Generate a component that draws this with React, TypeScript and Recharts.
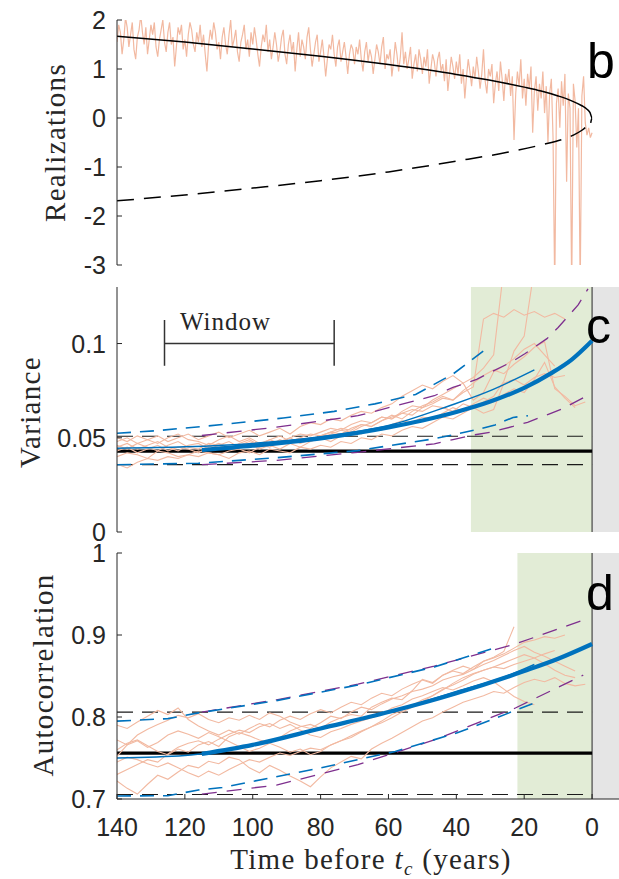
import React from 'react';
import { LineChart, Line, XAxis, YAxis, ReferenceArea, ReferenceLine } from 'recharts';

// ---- shared axis ----
const X_DOMAIN: [number, number] = [-10, 140];
const X_TICKS = [140, 120, 100, 80, 60, 40, 20, 0];

// ---- panel b: one realization (every 0.5 yr) + equilibria ----
const bNoise = [
  1.55, 1.9, 1.75, 1.3, 1.6, 2.05, 1.85, 1.45, 1.7, 1.95,
  1.4, 1.2, 1.65, 1.8, 2.1, 1.75, 1.5, 1.85, 1.3, 1.6,
  1.9, 1.7, 1.95, 1.45, 1.25, 1.6, 1.8, 2.0, 1.55, 1.35,
  1.75, 1.95, 1.5, 1.65, 1.05, 1.45, 1.85, 1.7, 1.9, 1.4,
  1.6, 1.25, 1.7, 1.95, 1.8, 1.5, 1.35, 1.75, 1.55, 1.9,
  1.45, 1.7, 1.3, 0.95, 1.5, 1.8, 1.6, 1.95, 1.75, 1.4,
  1.55, 1.2, 1.65, 1.85, 1.5, 1.3, 1.7, 2.0, 1.45, 1.6,
  1.8, 1.35, 1.15, 1.55, 1.7, 1.9, 1.4, 1.6, 1.25, 1.75,
  1.5, 1.85, 1.6, 1.3, 1.05, 1.45, 1.7, 1.55, 1.9, 1.35,
  1.6, 1.2, 1.45, 1.75, 1.5, 1.15, 1.35, 1.65, 1.8, 1.3,
  1.1, 1.5, 1.7, 1.35, 1.55, 0.95, 1.4, 1.75, 1.25, 1.6,
  1.45, 1.2, 1.65, 1.85, 1.4, 1.05, 1.3, 1.55, 1.7, 1.15,
  1.35, 1.6, 1.25, 0.85, 1.2, 1.5, 1.4, 1.7, 1.3, 1.05,
  1.45, 1.6, 1.15, 1.35, 1.55, 1.25, 0.9, 1.3, 1.5, 1.4,
  1.1, 1.45, 1.3, 1.6, 1.2, 0.95, 1.35, 1.55, 1.15, 1.4,
  1.25, 0.9, 1.2, 1.5, 1.35, 1.1, 1.45, 1.65, 1.0, 1.3,
  1.2, 1.4, 0.85, 1.15, 1.55, 1.3, 0.95, 1.25, 1.75, 1.1,
  1.35, 1.0, 1.2, 1.45, 0.8, 1.1, 1.3, 0.95, 1.4, 1.2,
  0.9, 1.25, 1.05, 1.4, 0.7, 1.0, 1.3, 1.15, 0.85, 1.2,
  1.35, 0.95, 1.1, 0.75, 1.2, 0.55, 0.9, 1.25, 1.05, 0.8,
  1.15, 0.9, 1.3, 0.7, 1.0, 0.4, 0.85, 1.2, 0.95, 0.65,
  1.05, 0.8, 1.25, 0.95, 0.6, 0.9, 1.4, 0.75, 0.5, 1.0,
  0.85, 1.1, 0.3, 0.7, 0.95, 0.55, 1.15, 0.8, 0.35, 0.9,
  0.7, 1.0, 0.45, 0.85, -0.45, 0.5, 0.95, 0.65, 1.2, 0.4,
  0.8, 0.25, 0.9, 0.6, 1.05, -0.3, 0.55, 0.85, 0.15, 0.7,
  0.4, 0.95, 0.1, 0.65, -0.5, 0.5, 0.8, -0.4, -3.5, 0.3,
  0.6, -0.2, 0.75, 0.25, 0.9, -1.3, 0.5, 0.2, -3.5, 0.7,
  0.35, -0.6, 0.2, -3.5, 0.45, 0.85, -0.1, -0.35, -0.2, -0.4,
  -0.3,
];
const bNoiseT = bNoise.map((_, i) => 140 - i * 0.5);
const bStableT = [140, 120, 100, 80, 60, 40, 30, 20, 15, 10, 6, 3, 1.5, 0.6, 0, 0.4];
const bStableV = [1.67, 1.55, 1.41, 1.26, 1.09, 0.89, 0.77, 0.63, 0.55, 0.45, 0.35, 0.25, 0.18, 0.11, 0, -0.1];
const bUnstableT = [140, 120, 100, 80, 60, 40, 25, 15, 8, 5.5, 3, 1];
const bUnstableV = [-1.69, -1.57, -1.43, -1.28, -1.1, -0.88, -0.7, -0.55, -0.42, -0.35, -0.25, -0.14];

// ---- panels c, d: moving-window estimates ----
const winT = [140, 137, 134, 131, 128, 125, 122, 119, 116, 113, 110, 107, 104, 101, 98, 95, 92, 89, 86, 83,
  80, 77, 74, 71, 68, 65, 62, 59, 56, 53, 50, 47, 44, 41, 38, 35, 32, 29, 26, 23, 20, 17, 14, 11, 8, 5, 2];

const varRuns = [
  [.046, .044, .047, .045, .043, .046, .048, .045, .044, .047, .046, .044, .047, .049, .046, .045, .048, .050, .047, .049,
    .051, .053, .052, .055, .057, .056, .059, .061, .063, .062, .066, .068, .071, .070, .074, .077, .113, .116, .114, .118,
    .115, .117, .114, .116, .113],
  [.040, .042, .041, .039, .043, .042, .040, .041, .043, .042, .041, .043, .044, .042, .045, .046, .044, .047, .049, .048,
    .050, .052, .054, .053, .056, .058, .061, .060, .064, .067, .066, .070, .073, .076, .079, .082, .087, .094, .140],
  [.050, .048, .051, .049, .047, .050, .052, .049, .048, .046, .049, .051, .048, .050, .047, .049, .051, .048, .050, .052,
    .051, .053, .055, .054, .057, .056, .059, .062, .060, .064, .067, .069, .072, .070, .075, .079, .083, .086, .084, .089,
    .093, .098, .101, .076, .072, .067, .069],
  [.036, .034, .037, .039, .038, .040, .039, .041, .040, .042, .041, .039, .042, .043, .041, .044, .043, .042, .045, .044,
    .046, .045, .048, .047, .050, .049, .052, .051, .054, .056, .055, .058, .061, .060, .063, .066, .069, .072, .080, .096,
    .104, .140],
  [.043, .045, .042, .044, .046, .043, .045, .044, .042, .045, .047, .045, .046, .048, .046, .049, .047, .050, .052, .051,
    .053, .055, .054, .057, .059, .058, .061, .060, .063, .065, .064, .067, .066, .064, .068, .066, .063, .065, .079, .081,
    .078, .082, .084, .082, .083],
  [.045, .047, .044, .046, .048, .045, .043, .046, .047, .044, .046, .048, .045, .047, .044, .046, .049, .047, .045, .048,
    .050, .048, .051, .053, .052, .055, .054, .057, .059, .058, .061, .060, .063, .066, .064, .068, .071, .069, .073, .076,
    .074, .081, .090, .077, .071, .066],
  [.048, .050, .047, .049, .051, .048, .050, .052, .049, .051, .053, .050, .052, .054, .051, .053, .055, .052, .056, .058,
    .057, .060, .059, .062, .064, .063, .066, .068, .072, .075, .078, .076, .080, .083, .079, .070, .074, .085, .088, .092,
    .097, .100, .094, .088],
];

const acRuns = [
  [.790, .786, .794, .801, .808, .803, .811, .797, .789, .783, .778, .784, .779, .786, .792, .788, .796, .801, .797, .804,
    .809, .805, .812, .818, .815, .823, .829, .826, .834, .840, .845, .841, .851, .857, .862, .858, .868, .873, .880, .910],
  [.760, .768, .772, .765, .758, .754, .761, .757, .766, .770, .764, .776, .781, .777, .772, .769, .775, .783, .788, .791,
    .786, .794, .799, .803, .801, .812, .818, .823, .821, .832, .846, .842, .851, .856, .853, .861, .868, .872, .877, .884,
    .891, .894, .898, .896, .900],
  [.722, .713, .706, .718, .729, .724, .733, .741, .738, .746, .743, .751, .748, .738, .732, .741, .735, .728, .722, .715,
    .727, .738, .745, .752, .749, .761, .768, .774, .781, .788, .795, .799, .806, .812, .818, .822, .826, .831, .829, .836,
    .842, .846, .843, .848, .841, .838, .840],
  [.772, .766, .771, .763, .769, .778, .783, .779, .774, .781, .776, .770, .764, .758, .762, .768, .763, .757, .761, .754,
    .758, .766, .771, .775, .782, .788, .793, .799, .806, .812, .819, .826, .834, .839, .845, .852, .857, .861, .866, .871,
    .876, .872, .865, .857, .851, .848],
  [.730, .736, .742, .748, .745, .755, .763, .768, .771, .766, .773, .779, .784, .781, .788, .792, .786, .791, .784, .778,
    .775, .782, .786, .791, .795, .799, .803, .811, .815, .822, .826, .831, .836, .833, .838, .844, .848, .843, .834, .825,
    .819, .815],
  [.745, .751, .748, .743, .739, .744, .738, .732, .727, .734, .729, .736, .742, .748, .745, .751, .756, .753, .758, .762,
    .760, .766, .771, .777, .783, .788, .795, .803, .808, .814, .821, .826, .833, .841, .848, .853, .857, .861, .859, .864,
    .868, .872, .877, .881],
  [.752, .766, .778, .785, .791, .796, .802, .799, .804, .797, .793, .799, .796, .802, .797, .805, .801, .794, .789, .786,
    .793, .801, .798, .806, .812, .809, .816, .822, .826, .831, .834, .838, .845, .849, .852, .858, .864, .869, .875, .881,
    .886, .879, .874, .868, .862, .856],
];

const cMeanT = [140, 120, 100, 80, 60, 42, 30, 17];
const cMeanV = [0.0445, 0.0452, 0.047, 0.0505, 0.0565, 0.067, 0.075, 0.086];
const cTheoryT = [115, 100, 80, 60, 50, 40, 30, 20, 12, 6, 0];
const cTheoryV = [0.0435, 0.0458, 0.0497, 0.0555, 0.0592, 0.0637, 0.0692, 0.0765, 0.0843, 0.0915, 0.1015];
const cHiBlueT = [140, 128, 109, 91, 76, 64, 52, 41, 30];
const cHiBlueV = [0.0524, 0.0538, 0.057, 0.0605, 0.064, 0.068, 0.073, 0.0838, 0.0988];
const cLoBlueT = [140, 116, 93, 69, 46.5, 41.9, 34, 28.6, 23.3, 18.9];
const cLoBlueV = [0.0357, 0.0365, 0.0394, 0.0432, 0.0495, 0.0512, 0.0543, 0.0568, 0.0608, 0.0617];
const cHiPurpleT = [115, 93, 69, 46.5, 41, 34, 30, 23.6, 19.7, 13.3, 10, 4.1, 1.2];
const cHiPurpleV = [0.0512, 0.0556, 0.0617, 0.0723, 0.0767, 0.081, 0.0847, 0.0903, 0.0947, 0.1026, 0.1085, 0.1205, 0.129];
const cLoPurpleT = [115, 93, 69, 46.5, 41, 34.5, 30, 23.3, 19, 12.7, 8.8, 2.4];
const cLoPurpleV = [0.0357, 0.038, 0.0423, 0.0468, 0.049, 0.0516, 0.0529, 0.056, 0.0582, 0.0626, 0.0653, 0.0714];
const cLevels = { mean: 0.0429, hi: 0.0508, lo: 0.0357 };
const cGreenStart = 35.7;
const windowT = [126, 76];
const windowV = { mid: 0.1, lo: 0.0882, hi: 0.1125 };

const dMeanT = [140, 120, 100, 80, 60, 40, 25, 17];
const dMeanV = [0.75, 0.753, 0.766, 0.786, 0.806, 0.831, 0.85, 0.864];
const dTheoryT = [115, 100, 80, 60, 40, 20, 10, 0];
const dTheoryV = [0.755, 0.766, 0.786, 0.806, 0.829, 0.856, 0.871, 0.889];
const dHiBlueT = [140, 125, 116, 93, 69, 46.5, 29];
const dHiBlueV = [0.795, 0.798, 0.805, 0.82, 0.839, 0.861, 0.884];
const dLoBlueT = [140, 125, 116, 109, 80, 58, 39.5, 17];
const dLoBlueV = [0.7037, 0.704, 0.711, 0.714, 0.738, 0.758, 0.781, 0.817];
const dHiPurpleT = [115, 93, 69, 46.5, 22.6, 2];
const dHiPurpleV = [0.806, 0.821, 0.84, 0.862, 0.889, 0.919];
const dLoPurpleT = [115, 93, 69, 46.5, 22.6, 2.6];
const dLoPurpleV = [0.706, 0.717, 0.742, 0.772, 0.811, 0.851];
const dLevels = { mean: 0.756, hi: 0.806, lo: 0.7055 };
const dGreenStart = 22;

// ---- styling ----
const AX = '#262626';
const SANS = '"Liberation Sans", Arial, Helvetica, sans-serif';
const SERIF = '"Liberation Serif", "Times New Roman", Times, serif';
const SALMON = '#f2b9a1';
const BLUE = '#0072bd';
const PURPLE = '#7e2f8e';
const GREEN = '#e2ecd6';
const GREY = '#e5e5e5';

type Pt = { t: number; v: number };
const pts = (ts: number[], vs: number[]): Pt[] => vs.map((v, i) => ({ t: ts[i], v }));
const flat = (v: number): Pt[] => [{ t: 140, v }, { t: 0, v }];

const bottomTick = (labels: boolean) => (p: any) => (
  <g>
    <line x1={p.x} x2={p.x} y1={p.y} y2={p.y - 5} stroke={AX} />
    {labels && (
      <text x={p.x} y={p.y + 37} textAnchor="middle" fontSize={25} fontFamily={SANS} fill={AX}>
        {p.payload.value}
      </text>
    )}
  </g>
);
const topTick = (p: any) => <line x1={p.x} x2={p.x} y1={p.y} y2={p.y + 5} stroke={AX} />;
const leftTick = (p: any) => (
  <g>
    <line x1={p.x} x2={p.x + 5} y1={p.y} y2={p.y} stroke={AX} />
    <text x={p.x - 11} y={p.y + 9} textAnchor="end" fontSize={25} fontFamily={SANS} fill={AX}>
      {String(p.payload.value)}
    </text>
  </g>
);

const axes = (yDomain: [number, number], yTicks: number[], labels: boolean, xHeight: number) => [
  <XAxis key="xb" dataKey="t" type="number" domain={X_DOMAIN} reversed ticks={X_TICKS} interval={0}
    allowDataOverflow height={xHeight} tickSize={0} tickMargin={0} tickLine={false}
    axisLine={{ stroke: AX }} tick={bottomTick(labels)} />,
  <XAxis key="xt" xAxisId="top" orientation="top" dataKey="t" type="number" domain={X_DOMAIN} reversed
    ticks={X_TICKS} interval={0} allowDataOverflow height={0} tickSize={0} tickMargin={0} tickLine={false}
    axisLine={{ stroke: AX }} tick={topTick} />,
  <YAxis key="y" dataKey="v" type="number" domain={yDomain} ticks={yTicks} interval={0} allowDataOverflow
    width={117} tickSize={0} tickMargin={0} tickLine={false} axisLine={{ stroke: AX }} tick={leftTick} />,
];

const line = (key: string, data: Pt[], color: string, width: number, dash?: string, smooth?: boolean) => (
  <Line key={key} data={data} dataKey="v" type={smooth ? 'monotone' : 'linear'} stroke={color}
    strokeWidth={width} strokeDasharray={dash} dot={false} activeDot={false} isAnimationActive={false} />
);

const windowPanel = (
  runs: number[][], levels: { mean: number; hi: number; lo: number },
  greenStart: number,
  band: { hiB: Pt[]; loB: Pt[]; hiP: Pt[]; loP: Pt[]; mean: Pt[]; theory: Pt[] },
) => [
  <ReferenceArea key="green" x1={greenStart} x2={0} fill={GREEN} fillOpacity={1} stroke="none" />,
  <ReferenceArea key="grey" x1={0} x2={-10} fill={GREY} fillOpacity={1} stroke="none" />,
  <ReferenceLine key="zero" x={0} stroke={AX} strokeWidth={1} />,
  line('lvHi', flat(levels.hi), '#1a1a1a', 1.2, '16 9'),
  line('lvLo', flat(levels.lo), '#1a1a1a', 1.2, '16 9'),
  line('lvMean', flat(levels.mean), '#000', 3.2),
  ...runs.map((r, i) => line(`run${i}`, pts(winT, r), SALMON, 1.1)),
  line('hiP', band.hiP, PURPLE, 1.3, '15 10'),
  line('loP', band.loP, PURPLE, 1.3, '15 10'),
  line('hiB', band.hiB, BLUE, 1.6, '14 9'),
  line('loB', band.loB, BLUE, 1.6, '14 9'),
  line('mean', band.mean, BLUE, 1.5, undefined, true),
  line('theory', band.theory, BLUE, 4.2, undefined, true),
];

const serif = (size: number, spacing: number): React.CSSProperties => ({
  fontFamily: SERIF, fontSize: size, letterSpacing: `${spacing}px`,
});

export default function App() {
  const W = 626;
  return (
    <div style={{ position: 'absolute', left: 0, top: 0, width: 619, height: 879, overflow: 'hidden', background: '#fff' }}>
      <div style={{ position: 'absolute', left: 0, top: 0 }}>
        <LineChart width={W} height={280} margin={{ top: 20, right: 0, bottom: 15, left: 0 }}>
          {axes([-3, 2], [-3, -2, -1, 0, 1, 2], false, 0)}
          {line('noise', pts(bNoiseT, bNoise), SALMON, 1.2)}
          {line('stable', pts(bStableT, bStableV), '#000', 1.5, undefined, true)}
          {line('unstable', pts(bUnstableT, bUnstableV), '#000', 1.5, '17 10', true)}
        </LineChart>
      </div>
      <div style={{ position: 'absolute', left: 0, top: 267 }}>
        <LineChart width={W} height={280} margin={{ top: 20, right: 0, bottom: 15, left: 0 }}>
          {axes([0, 0.13], [0, 0.05, 0.1], false, 0)}
          {windowPanel(varRuns, cLevels, cGreenStart, {
            hiB: pts(cHiBlueT, cHiBlueV), loB: pts(cLoBlueT, cLoBlueV),
            hiP: pts(cHiPurpleT, cHiPurpleV), loP: pts(cLoPurpleT, cLoPurpleV),
            mean: pts(cMeanT, cMeanV), theory: pts(cTheoryT, cTheoryV),
          })}
          <ReferenceLine segment={[{ x: windowT[0], y: windowV.mid }, { x: windowT[1], y: windowV.mid }]} stroke="#333" strokeWidth={1.5} />
          <ReferenceLine segment={[{ x: windowT[0], y: windowV.lo }, { x: windowT[0], y: windowV.hi }]} stroke="#333" strokeWidth={1.5} />
          <ReferenceLine segment={[{ x: windowT[1], y: windowV.lo }, { x: windowT[1], y: windowV.hi }]} stroke="#333" strokeWidth={1.5} />
        </LineChart>
      </div>
      <div style={{ position: 'absolute', left: 0, top: 533 }}>
        <LineChart width={W} height={346} margin={{ top: 20, right: 0, bottom: 0, left: 0 }}>
          {axes([0.7, 1], [0.7, 0.8, 0.9, 1], true, 80)}
          {windowPanel(acRuns, dLevels, dGreenStart, {
            hiB: pts(dHiBlueT, dHiBlueV), loB: pts(dLoBlueT, dLoBlueV),
            hiP: pts(dHiPurpleT, dHiPurpleV), loP: pts(dLoPurpleT, dLoPurpleV),
            mean: pts(dMeanT, dMeanV), theory: pts(dTheoryT, dTheoryV),
          })}
        </LineChart>
      </div>
      <svg width={619} height={879} style={{ position: 'absolute', left: 0, top: 0, pointerEvents: 'none' }}>
        <g fill="#000" style={{ fontFamily: SANS, fontSize: 50 }}>
          <text x={587} y={78}>b</text>
          <text x={586} y={343}>c</text>
          <text x={586} y={610}>d</text>
        </g>
        <g fill={AX}>
          <text transform="translate(65,142.5) rotate(-90)" textAnchor="middle" style={serif(29, 1.3)}>Realizations</text>
          <text transform="translate(39.5,412) rotate(-90)" textAnchor="middle" style={serif(29, 1.3)}>Variance</text>
          <text transform="translate(53,675) rotate(-90)" textAnchor="middle" style={serif(29, 1.3)}>Autocorrelation</text>
          <text x={371} y={869} textAnchor="middle" style={serif(29, 1.3)}>
            Time before <tspan fontStyle="italic">t</tspan>
            <tspan fontStyle="italic" fontSize={19} dy={6}>c</tspan>
            <tspan dy={-6}> (years)</tspan>
          </text>
          <text x={180} y={330} style={serif(25, 1)}>Window</text>
        </g>
      </svg>
    </div>
  );
}
